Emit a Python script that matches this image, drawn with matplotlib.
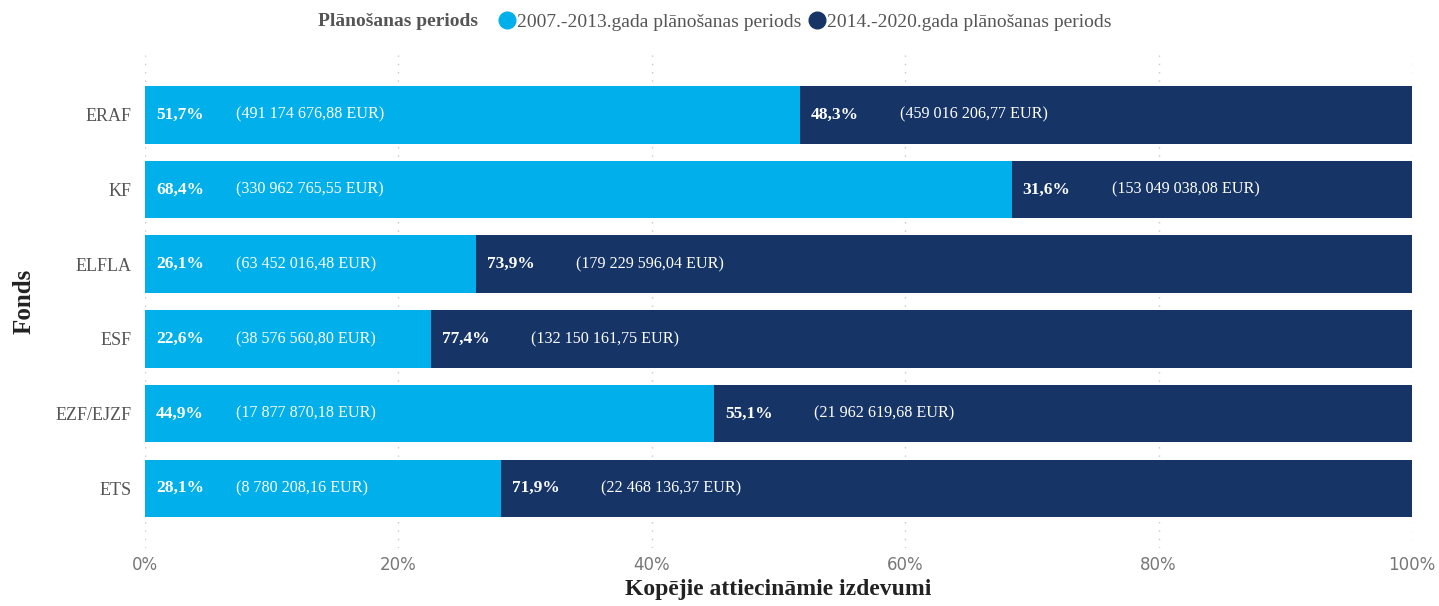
import numpy as np
import matplotlib.pyplot as plt
from matplotlib.lines import Line2D
from matplotlib.ticker import FuncFormatter

funds = ["ERAF", "KF", "ELFLA", "ESF", "EZF/EJZF", "ETS"]
share_0713 = [51.7, 68.4, 26.1, 22.6, 44.9, 28.1]
share_1420 = [48.3, 31.6, 73.9, 77.4, 55.1, 71.9]
eur_0713 = ["491 174 676,88", "330 962 765,55", "63 452 016,48",
            "38 576 560,80", "17 877 870,18", "8 780 208,16"]
eur_1420 = ["459 016 206,77", "153 049 038,08", "179 229 596,04",
            "132 150 161,75", "21 962 619,68", "22 468 136,37"]
series_names = ["2007.-2013.gada plānošanas periods", "2014.-2020.gada plānošanas periods"]

c1 = "#01AFEA"
c2 = "#163566"
serif = "Liberation Serif"

fig = plt.figure(figsize=(14.39, 6.06), dpi=100)
ax = fig.add_axes([0.1008, 0.0957, 0.8804, 0.8133])

y = np.arange(len(funds))
h = 0.77
ax.barh(y, share_0713, height=h, color=c1)
ax.barh(y, share_1420, left=share_0713, height=h, color=c2)

for i in range(len(funds)):
    for start, pct, eur, dx in [(0, share_0713[i], eur_0713[i], 91),
                                (share_0713[i], share_1420[i], eur_1420[i], 100)]:
        lab = ("%.1f%%" % pct).replace(".", ",")
        ax.annotate(lab, (start, i), xytext=(8, 0), textcoords="offset points",
                    color="white", fontsize=12.5, fontweight="semibold", family=serif,
                    va="center", ha="left")
        ax.annotate("(" + eur + " EUR)", (start, i), xytext=(dx * 0.72, 0),
                    textcoords="offset points", color="white", fontsize=11.6,
                    family=serif, va="center", ha="left")

ax.set_xlim(0, 100)
ax.set_ylim(5.8, -0.8)
ax.set_yticks(y)
ax.set_yticklabels(funds, family=serif, fontsize=13, color="#555555")
ax.set_xticks([0, 20, 40, 60, 80, 100])
ax.xaxis.set_major_formatter(FuncFormatter(lambda v, p: "%d%%" % v))
ax.tick_params(axis="x", labelsize=12, labelcolor="#777777", length=0, pad=6)
ax.tick_params(axis="y", length=0, pad=10)
for s in ax.spines.values():
    s.set_visible(False)
ax.grid(axis="x", color="#c8c8c8", ls=(0, (1, 5)), lw=1)
ax.set_axisbelow(True)

ax.set_xlabel("Kopējie attiecināmie izdevumi", family=serif, fontsize=17,
              fontweight="bold", color="#222222", labelpad=3)
ax.set_ylabel("Fonds", family=serif, fontsize=18, fontweight="bold",
              color="#222222", labelpad=14)

fig.text(478 / 1439, 1 - 22 / 606, "Plānošanas periods", family=serif,
         fontsize=14, fontweight="bold", color="#555555", ha="right", va="center")
handles = [Line2D([], [], marker="o", ls="", color=c, markersize=12) for c in (c1, c2)]
fig.legend(handles, series_names, loc="center left", bbox_to_anchor=(480 / 1439, 1 - 22 / 606),
           ncol=2, frameon=False, handletextpad=0.0, columnspacing=0.3,
           handlelength=1.0, prop={"family": serif, "size": 14}, labelcolor="#555555")

fig.savefig("out.png", dpi=100)
